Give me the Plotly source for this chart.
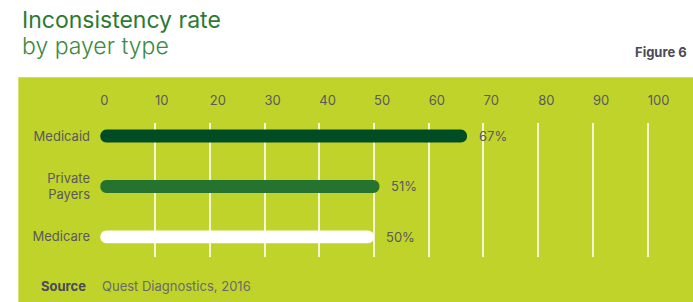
import plotly.graph_objects as go

categories = ["Medicaid", "Private<br>Payers", "Medicare"]
values = [67, 51, 50]
value_labels = ["67%", "51%", "50%"]
bar_colors = ["#004d25", "#267330", "#ffffff"]
tick_vals = [0, 10, 20, 30, 40, 50, 60, 70, 80, 90, 100]

FONT = "Inter"
GRAY = "#5a5a5a"
PANEL = "#c0d32b"

fig = go.Figure()
fig.add_trace(go.Bar(
    y=categories, x=values, base=[0] * len(values), orientation="h",
    marker=dict(color=bar_colors, cornerradius="50%", line=dict(width=0)),
    width=0.257, hoverinfo="skip", showlegend=False,
))

annotations = []
for c, v, t in zip(categories, values, value_labels):
    annotations.append(dict(x=v, y=c, xref="x", yref="y", text=t, showarrow=False,
                            xanchor="left", xshift=10,
                            font=dict(family=FONT, size=13, color=GRAY)))

L, R, T, B = 99.7, 42, 123, 45
W, H = 693, 302
pw, ph = W - L - R, H - T - B

def px(xp):
    return (xp - L) / pw

def py(yp):
    return (H - B - yp) / ph

annotations += [
    dict(x=px(20), y=py(20), xref="paper", yref="paper", xanchor="left", yanchor="middle",
         text="Inconsistency rate", showarrow=False,
         font=dict(family=FONT, size=23, color="#2b7a34", weight=400)),
    dict(x=px(20), y=py(46), xref="paper", yref="paper", xanchor="left", yanchor="middle",
         text="by payer type", showarrow=False,
         font=dict(family=FONT, size=23, color="#3d8a42", weight=300)),
    dict(x=px(689), y=py(52), xref="paper", yref="paper", xanchor="right", yanchor="middle",
         text="<b>Figure 6</b>", showarrow=False,
         font=dict(family=FONT, size=13, color="#4a4a55")),
    dict(x=px(39), y=py(286), xref="paper", yref="paper", xanchor="left", yanchor="middle",
         text="<b>Source</b>", showarrow=False,
         font=dict(family=FONT, size=13, color="#4a4a5a")),
    dict(x=px(100), y=py(286), xref="paper", yref="paper", xanchor="left", yanchor="middle",
         text="Quest Diagnostics, 2016", showarrow=False,
         font=dict(family=FONT, size=13, color="#6a6a6a")),
]

fig.update_layout(
    width=W, height=H,
    margin=dict(l=L, r=R, t=T, b=B, pad=0),
    paper_bgcolor="white",
    plot_bgcolor="rgba(0,0,0,0)",
    annotations=annotations,
    shapes=[dict(type="rect", xref="paper", yref="paper",
                 x0=px(18), x1=px(700), y0=py(310), y1=py(77.3),
                 fillcolor=PANEL, line=dict(width=0), layer="below")],
    font=dict(family=FONT, size=13, color=GRAY),
)
fig.update_xaxes(
    range=[-0.05, 100.6], side="top", tickvals=tick_vals,
    showgrid=True, gridcolor="rgba(255,255,255,0.8)", gridwidth=1.5,
    zeroline=False, showline=False,
    ticks="", ticklabelposition="outside right", ticklabelstandoff=14,
    tickfont=dict(family=FONT, size=13, color=GRAY), fixedrange=True,
)
fig.update_yaxes(
    range=[2.4, -0.26], type="category", categoryorder="array", categoryarray=categories,
    showgrid=False, zeroline=False, showline=False, ticks="",
    ticklabelstandoff=9,
    tickfont=dict(family=FONT, size=13, color=GRAY), fixedrange=True,
)

fig.write_html("out.html", config=dict(displayModeBar=False),
               post_script="document.body.style.margin='0';document.body.style.overflow='hidden';")
